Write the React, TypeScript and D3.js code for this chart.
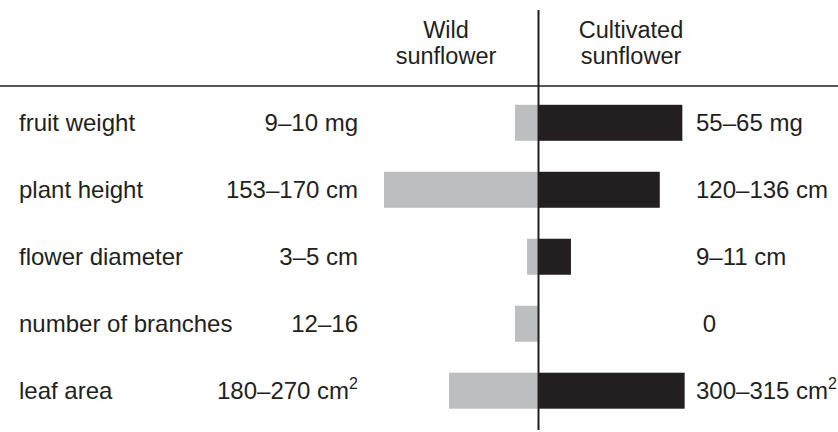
import React from "react";
import * as d3 from "d3";

const traits = ["fruit weight", "plant height", "flower diameter", "number of branches", "leaf area"];
const wildLabels = ["9–10 mg", "153–170 cm", "3–5 cm", "12–16", "180–270 cm"];
const cultLabels = ["55–65 mg", "120–136 cm", "9–11 cm", "\u00a00", "300–315 cm"];
const superscripts = ["", "", "", "", "2"];
// relative bar length (% of longest bar)
const wildValues = [15.2, 100, 7.4, 15.2, 57.9];
const cultValues = [93.1, 78.5, 21, 0, 94.6];
const headers = [["Wild", "sunflower"], ["Cultivated", "sunflower"]];

const W = 838;
const H = 432;
const CX = 538.5;
const INK = "#231f20";
const GRAY = "#bcbec0";
const FONT = "'Liberation Sans', Arial, Helvetica, sans-serif";
const FS = 24;

export default function App() {
  const len = d3.scaleLinear().domain([0, 100]).range([0, 154.5]);
  const y = d3.scalePoint<number>().domain(d3.range(traits.length)).range([122.8, 390.7]);
  const barH = 36;

  const label = (i: number, text: string, x: number, anchor: string) => (
    <text x={x} y={y(i)! + 8.5} textAnchor={anchor} fontSize={FS} fill={INK} fontFamily={FONT}>
      {text}
      {superscripts[i] ? (
        <tspan fontSize={16} dy={-10}>{superscripts[i]}</tspan>
      ) : null}
    </text>
  );

  return (
    <svg width={W} height={H} style={{ position: "absolute", left: 0, top: 0, background: "#fff" }}>
      {headers.map((h, k) => (
        <g key={k}>
          {h.map((t, j) => (
            <text key={j} x={k === 0 ? 446 : 631} y={38 + j * 26} textAnchor="middle" fontSize={23.5} fill={INK} fontFamily={FONT}>
              {t}
            </text>
          ))}
        </g>
      ))}
      <line x1={0} x2={W} y1={86} y2={86} stroke={INK} strokeWidth={1.5} />
      {traits.map((t, i) => (
        <g key={t}>
          <rect x={CX - len(wildValues[i])} y={y(i)! - barH / 2} width={len(wildValues[i])} height={barH} fill={GRAY} />
          <rect x={CX} y={y(i)! - barH / 2} width={len(cultValues[i])} height={barH} fill={INK} />
          <text x={19} y={y(i)! + 8.5} fontSize={FS} fill={INK} fontFamily={FONT}>{t}</text>
          {label(i, wildLabels[i], 358, "end")}
          {label(i, cultLabels[i], 696, "start")}
        </g>
      ))}
      <line x1={CX} x2={CX} y1={10} y2={430} stroke={INK} strokeWidth={2} />
    </svg>
  );
}
